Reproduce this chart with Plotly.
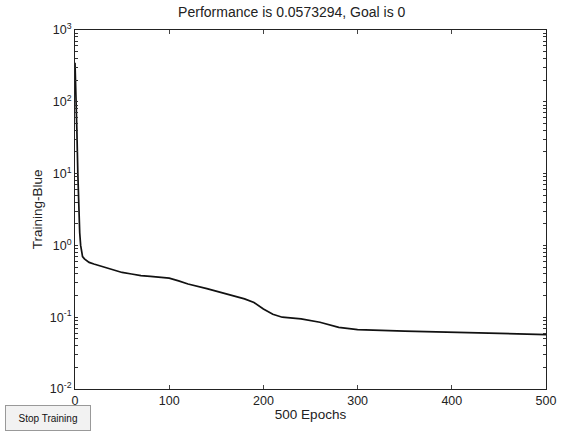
import plotly.graph_objects as go

epochs = [0, 1, 2, 3, 4, 5, 6, 7, 8, 10, 12, 15, 20, 30, 40, 50, 60, 70, 80, 90, 100,
          110, 120, 140, 160, 180, 190, 200, 210, 220, 240, 260, 280, 300, 350, 400, 450, 500]
performance = [350, 150, 40, 10, 3.0, 1.5, 1.0, 0.8, 0.7, 0.65, 0.62, 0.58, 0.55, 0.50, 0.46,
               0.42, 0.40, 0.38, 0.37, 0.36, 0.35, 0.32, 0.29, 0.25, 0.21, 0.18, 0.16, 0.13,
               0.11, 0.10, 0.095, 0.085, 0.072, 0.067, 0.064, 0.062, 0.060, 0.0573294]

x_ticks = [0, 100, 200, 300, 400, 500]
y_decades = [0.01, 0.1, 1, 10, 100, 1000]
y_decade_labels = ["10<sup>-2</sup>", "10<sup>-1</sup>", "10<sup>0</sup>",
                   "10<sup>1</sup>", "10<sup>2</sup>", "10<sup>3</sup>"]
y_minor_ticks = [m * d for d in y_decades[:-1] for m in range(2, 10)]

y_tickvals = y_decades + y_minor_ticks
y_ticktext = y_decade_labels + [""] * len(y_minor_ticks)

font_family = "Liberation Sans, Arial, sans-serif"

fig = go.Figure()
fig.add_trace(go.Scatter(x=epochs, y=performance, mode="lines",
                         line=dict(color="#111111", width=1.7), showlegend=False))

fig.update_layout(
    width=561, height=438,
    margin=dict(l=75, r=15, t=30, b=49, autoexpand=False),
    paper_bgcolor="white", plot_bgcolor="white",
    font=dict(family=font_family, size=12, color="#222222"),
    title=dict(text="Performance is 0.0573294, Goal is 0", x=0.52, xanchor="center",
               y=0.972, yanchor="middle", font=dict(size=14, color="#222222")),
    xaxis=dict(range=[0, 500], tickvals=x_ticks, ticks="inside", ticklen=4,
               showline=True, linecolor="#222222", linewidth=1, mirror="allticks",
               showgrid=False, zeroline=False, tickfont=dict(size=12.5), automargin=False,
               title=dict(text="500 Epochs", standoff=2, font=dict(size=13.5))),
    yaxis=dict(type="log", range=[-2, 3], tickvals=y_tickvals, ticktext=y_ticktext,
               ticks="inside", ticklen=3, tickcolor="#333333", showline=True,
               linecolor="#222222", linewidth=1, mirror="allticks", showgrid=False,
               zeroline=False, tickfont=dict(size=12.5), automargin=False),
)

fig.add_annotation(text="Training-Blue", xref="paper", yref="paper", x=-0.079, y=0.5,
                   xanchor="center", yanchor="middle", textangle=-90, showarrow=False,
                   font=dict(size=13.5, color="#222222"))

fig.add_annotation(text="Stop Training", xref="paper", yref="paper",
                   x=-0.149, y=-0.045, xanchor="left", yanchor="top", showarrow=False,
                   width=78, height=18,
                   font=dict(size=10, color="#111111"), bgcolor="#f2f2f2",
                   bordercolor="#999999", borderwidth=1, borderpad=3)

fig.write_html("out.html", config={"displayModeBar": False},
               post_script="document.body.style.margin='0';")
